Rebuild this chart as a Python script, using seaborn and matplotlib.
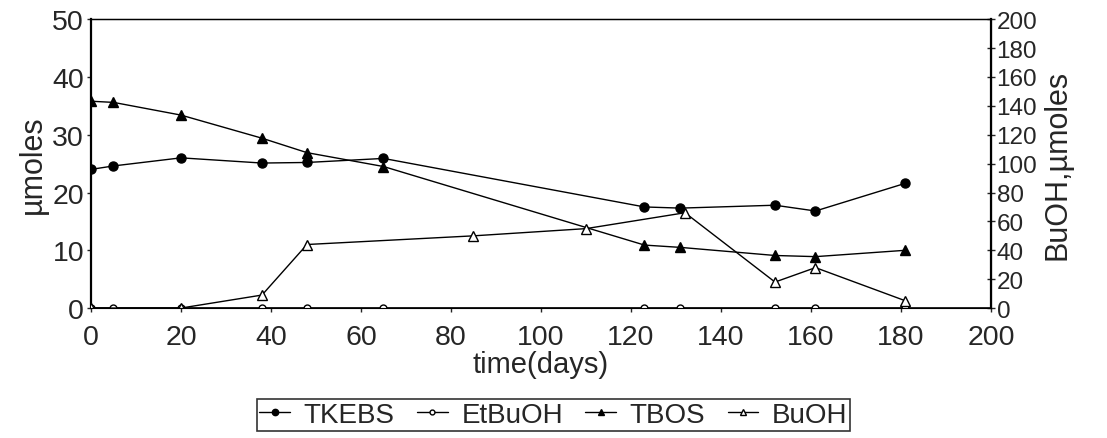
import seaborn as sns
import matplotlib.pyplot as plt
import pandas as pd

# values
days = [0, 5, 20, 38, 48, 65, 123, 131, 152, 161, 181]
tkebs = [24.0, 24.6, 26.0, 25.1, 25.2, 25.9, 17.5, 17.3, 17.8, 16.8, 21.6]
tbos = [35.8, 35.6, 33.4, 29.4, 26.9, 24.5, 10.9, 10.5, 9.1, 8.9, 10.0]
etbuoh = [0, 0, 0, 0, 0, 0, 0, 0, 0, 0, 0]

buoh_days = [0, 20, 38, 48, 85, 110, 132, 152, 161, 181]
buoh = [0, 0, 9, 44, 50, 55, 66, 18, 28, 5]

left = pd.DataFrame({"days": days, "TKEBS": tkebs, "TBOS": tbos, "EtBuOH": etbuoh})
right = pd.DataFrame({"days": buoh_days, "BuOH": buoh})

sns.set_style("ticks")
plt.rcParams['font.family'] = ['Liberation Sans', 'DejaVu Sans']

fig = plt.figure(figsize=(11.07, 4.39), dpi=100)
ax = fig.add_axes([0.0822, 0.296, 0.813, 0.658])
ax2 = ax.twinx()

line_kw = dict(color="black", linewidth=1, markeredgecolor="black", markeredgewidth=1)

sns.lineplot(data=left, x="days", y="TKEBS", ax=ax, marker="o", markersize=6.5,
             label="TKEBS", legend=False, **line_kw)
sns.lineplot(data=left, x="days", y="TBOS", ax=ax, marker="^", markersize=7,
             label="TBOS", legend=False, **line_kw)
sns.lineplot(data=left, x="days", y="EtBuOH", ax=ax2, marker="o", markersize=5,
             markerfacecolor="white", label="EtBuOH", legend=False, **line_kw)
sns.lineplot(data=right, x="days", y="BuOH", ax=ax2, marker="^", markersize=7,
             markerfacecolor="white", label="BuOH", legend=False, **line_kw)

ax.set_xlim(0, 200)
ax.set_ylim(0, 50)
ax2.set_ylim(0, 200)
ax.set_xticks(range(0, 201, 20))
ax.set_yticks(range(0, 51, 10))
ax2.set_yticks(range(0, 201, 20))

ax.set_xlabel("time(days)", fontsize=21, labelpad=0)
ax.set_ylabel("µmoles", fontsize=22, labelpad=3)
ax2.set_ylabel("BuOH,µmoles", fontsize=22, labelpad=4)

ax.tick_params(axis="x", direction="out", length=3, width=1, pad=8.5, labelsize=20.5)
ax.tick_params(axis="y", direction="out", length=3, width=1, pad=2, labelsize=20.5)
ax2.tick_params(axis="y", direction="inout", length=6, width=1, pad=1, labelsize=17.5)

for a in (ax, ax2):
    for s in a.spines.values():
        s.set_color("black")
ax.spines["left"].set_linewidth(1.6)
ax.spines["bottom"].set_linewidth(1.2)
ax.spines["top"].set_linewidth(1.0)
ax2.spines["right"].set_linewidth(1.6)
ax2.spines["left"].set_visible(False)

h1, l1 = ax.get_legend_handles_labels()
h2, l2 = ax2.get_legend_handles_labels()
hd = dict(zip(l1 + l2, h1 + h2))
order = ["TKEBS", "EtBuOH", "TBOS", "BuOH"]
leg = fig.legend([hd[k] for k in order], order, loc="center", bbox_to_anchor=(0.5, 0.052),
                 ncol=4, frameon=True, fancybox=False, edgecolor="black", fontsize=20,
                 handlelength=1.1, handletextpad=0.5, columnspacing=0.8, borderpad=0.1,
                 markerscale=0.7, borderaxespad=0)
leg.get_frame().set_linewidth(1.2)

fig.savefig("out.png", dpi=100)
